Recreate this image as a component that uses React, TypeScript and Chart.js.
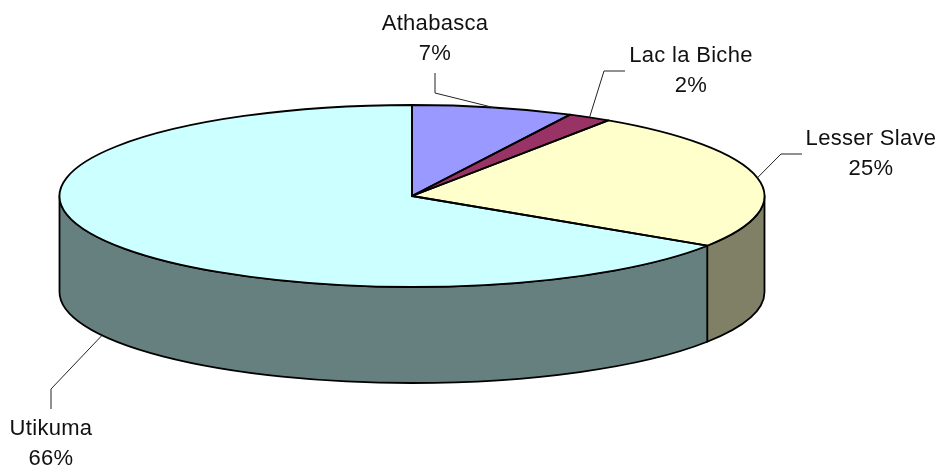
import React, { useEffect, useRef } from "react";
import { Chart, registerables } from "chart.js";

Chart.register(...registerables);

const categories = ["Athabasca", "Lac la Biche", "Lesser Slave", "Utikuma"];
const shares = [7.4, 2.0, 24.8, 65.8];
const topColors = ["#9999FF", "#993366", "#FFFFCC", "#CCFFFF"];
const wallColors = ["#4D4D80", "#4D1A33", "#808066", "#668080"];

const PIE = { cx: 412, cy: 196, rx: 352.5, ry: 91, depth: 96 };
const FONT = '22px "Liberation Sans", Arial, sans-serif';
const LABELS = [
  { x: 435, y1: 30, y2: 60, path: [[435, 73], [435, 93]], wall: false },
  { x: 691, y1: 62, y2: 92, path: [[625, 71], [604, 71]], wall: false },
  { x: 871, y1: 145, y2: 175, path: [[802, 154], [781, 154]], wall: false },
  { x: 51, y1: 435, y2: 465, path: [[51, 409], [51, 389]], wall: true },
];

const pie3d = {
  id: "pie3d",
  beforeDatasetsDraw(chart: any) {
    const ctx = chart.ctx;
    const arcs = chart.getDatasetMeta(0).data;
    const { cx, cy, rx, ry, depth } = PIE;
    ctx.save();
    ctx.lineWidth = 1.8;
    ctx.strokeStyle = "#000";
    ctx.lineJoin = "round";
    arcs.forEach((arc: any, i: number) => {
      const a0 = Math.max(arc.startAngle, 0);
      const a1 = Math.min(arc.endAngle, Math.PI);
      if (a1 <= a0) return;
      ctx.beginPath();
      ctx.ellipse(cx, cy, rx, ry, 0, a0, a1);
      ctx.lineTo(cx + rx * Math.cos(a1), cy + depth + ry * Math.sin(a1));
      ctx.ellipse(cx, cy + depth, rx, ry, 0, a1, a0, true);
      ctx.closePath();
      ctx.fillStyle = wallColors[i];
      ctx.fill();
      ctx.stroke();
    });
    ctx.restore();
    const first = arcs[0];
    ctx.save();
    ctx.translate(cx, cy);
    ctx.scale(rx / first.outerRadius, ry / first.outerRadius);
    ctx.translate(-first.x, -first.y);
  },
  afterDatasetsDraw(chart: any) {
    const ctx = chart.ctx;
    ctx.restore();
    const arcs = chart.getDatasetMeta(0).data;
    const { cx, cy, rx, ry, depth } = PIE;
    const total = shares.reduce((s, v) => s + v, 0);
    ctx.save();
    ctx.lineWidth = 1.8;
    ctx.strokeStyle = "#000";
    ctx.lineJoin = "round";
    arcs.forEach((arc: any) => {
      ctx.beginPath();
      ctx.moveTo(cx, cy);
      ctx.ellipse(cx, cy, rx, ry, 0, arc.startAngle, arc.endAngle);
      ctx.closePath();
      ctx.stroke();
    });
    ctx.lineWidth = 1;
    ctx.strokeStyle = "#222";
    ctx.fillStyle = "#111";
    ctx.font = FONT;
    (ctx as any).letterSpacing = "0.3px";
    ctx.textAlign = "center";
    ctx.textBaseline = "alphabetic";
    arcs.forEach((arc: any, i: number) => {
      const mid = (arc.startAngle + arc.endAngle) / 2;
      const layout = LABELS[i];
      const ax = cx + rx * Math.cos(mid);
      const ay = cy + ry * Math.sin(mid) + (layout.wall ? depth : 0);
      ctx.beginPath();
      ctx.moveTo(layout.path[0][0], layout.path[0][1]);
      ctx.lineTo(layout.path[1][0], layout.path[1][1]);
      ctx.lineTo(ax, ay);
      ctx.stroke();
      ctx.fillText(categories[i], layout.x, layout.y1);
      ctx.fillText(Math.round((shares[i] / total) * 100) + "%", layout.x, layout.y2);
    });
    ctx.restore();
  },
};

export default function App() {
  const ref = useRef<HTMLCanvasElement | null>(null);
  useEffect(() => {
    const chart = new Chart(ref.current as HTMLCanvasElement, {
      type: "pie",
      data: {
        labels: categories,
        datasets: [{ data: shares, backgroundColor: topColors, borderWidth: 0 }],
      },
      options: {
        responsive: false,
        animation: false,
        layout: { padding: 0 },
        plugins: { legend: { display: false }, tooltip: { enabled: false } },
      },
      plugins: [pie3d],
    } as any);
    return () => chart.destroy();
  }, []);
  return (
    <div style={{ position: "fixed", left: 0, top: 0, width: 946, height: 471, background: "#fff" }}>
      <canvas ref={ref} width={946} height={471} style={{ display: "block" }} />
    </div>
  );
}
